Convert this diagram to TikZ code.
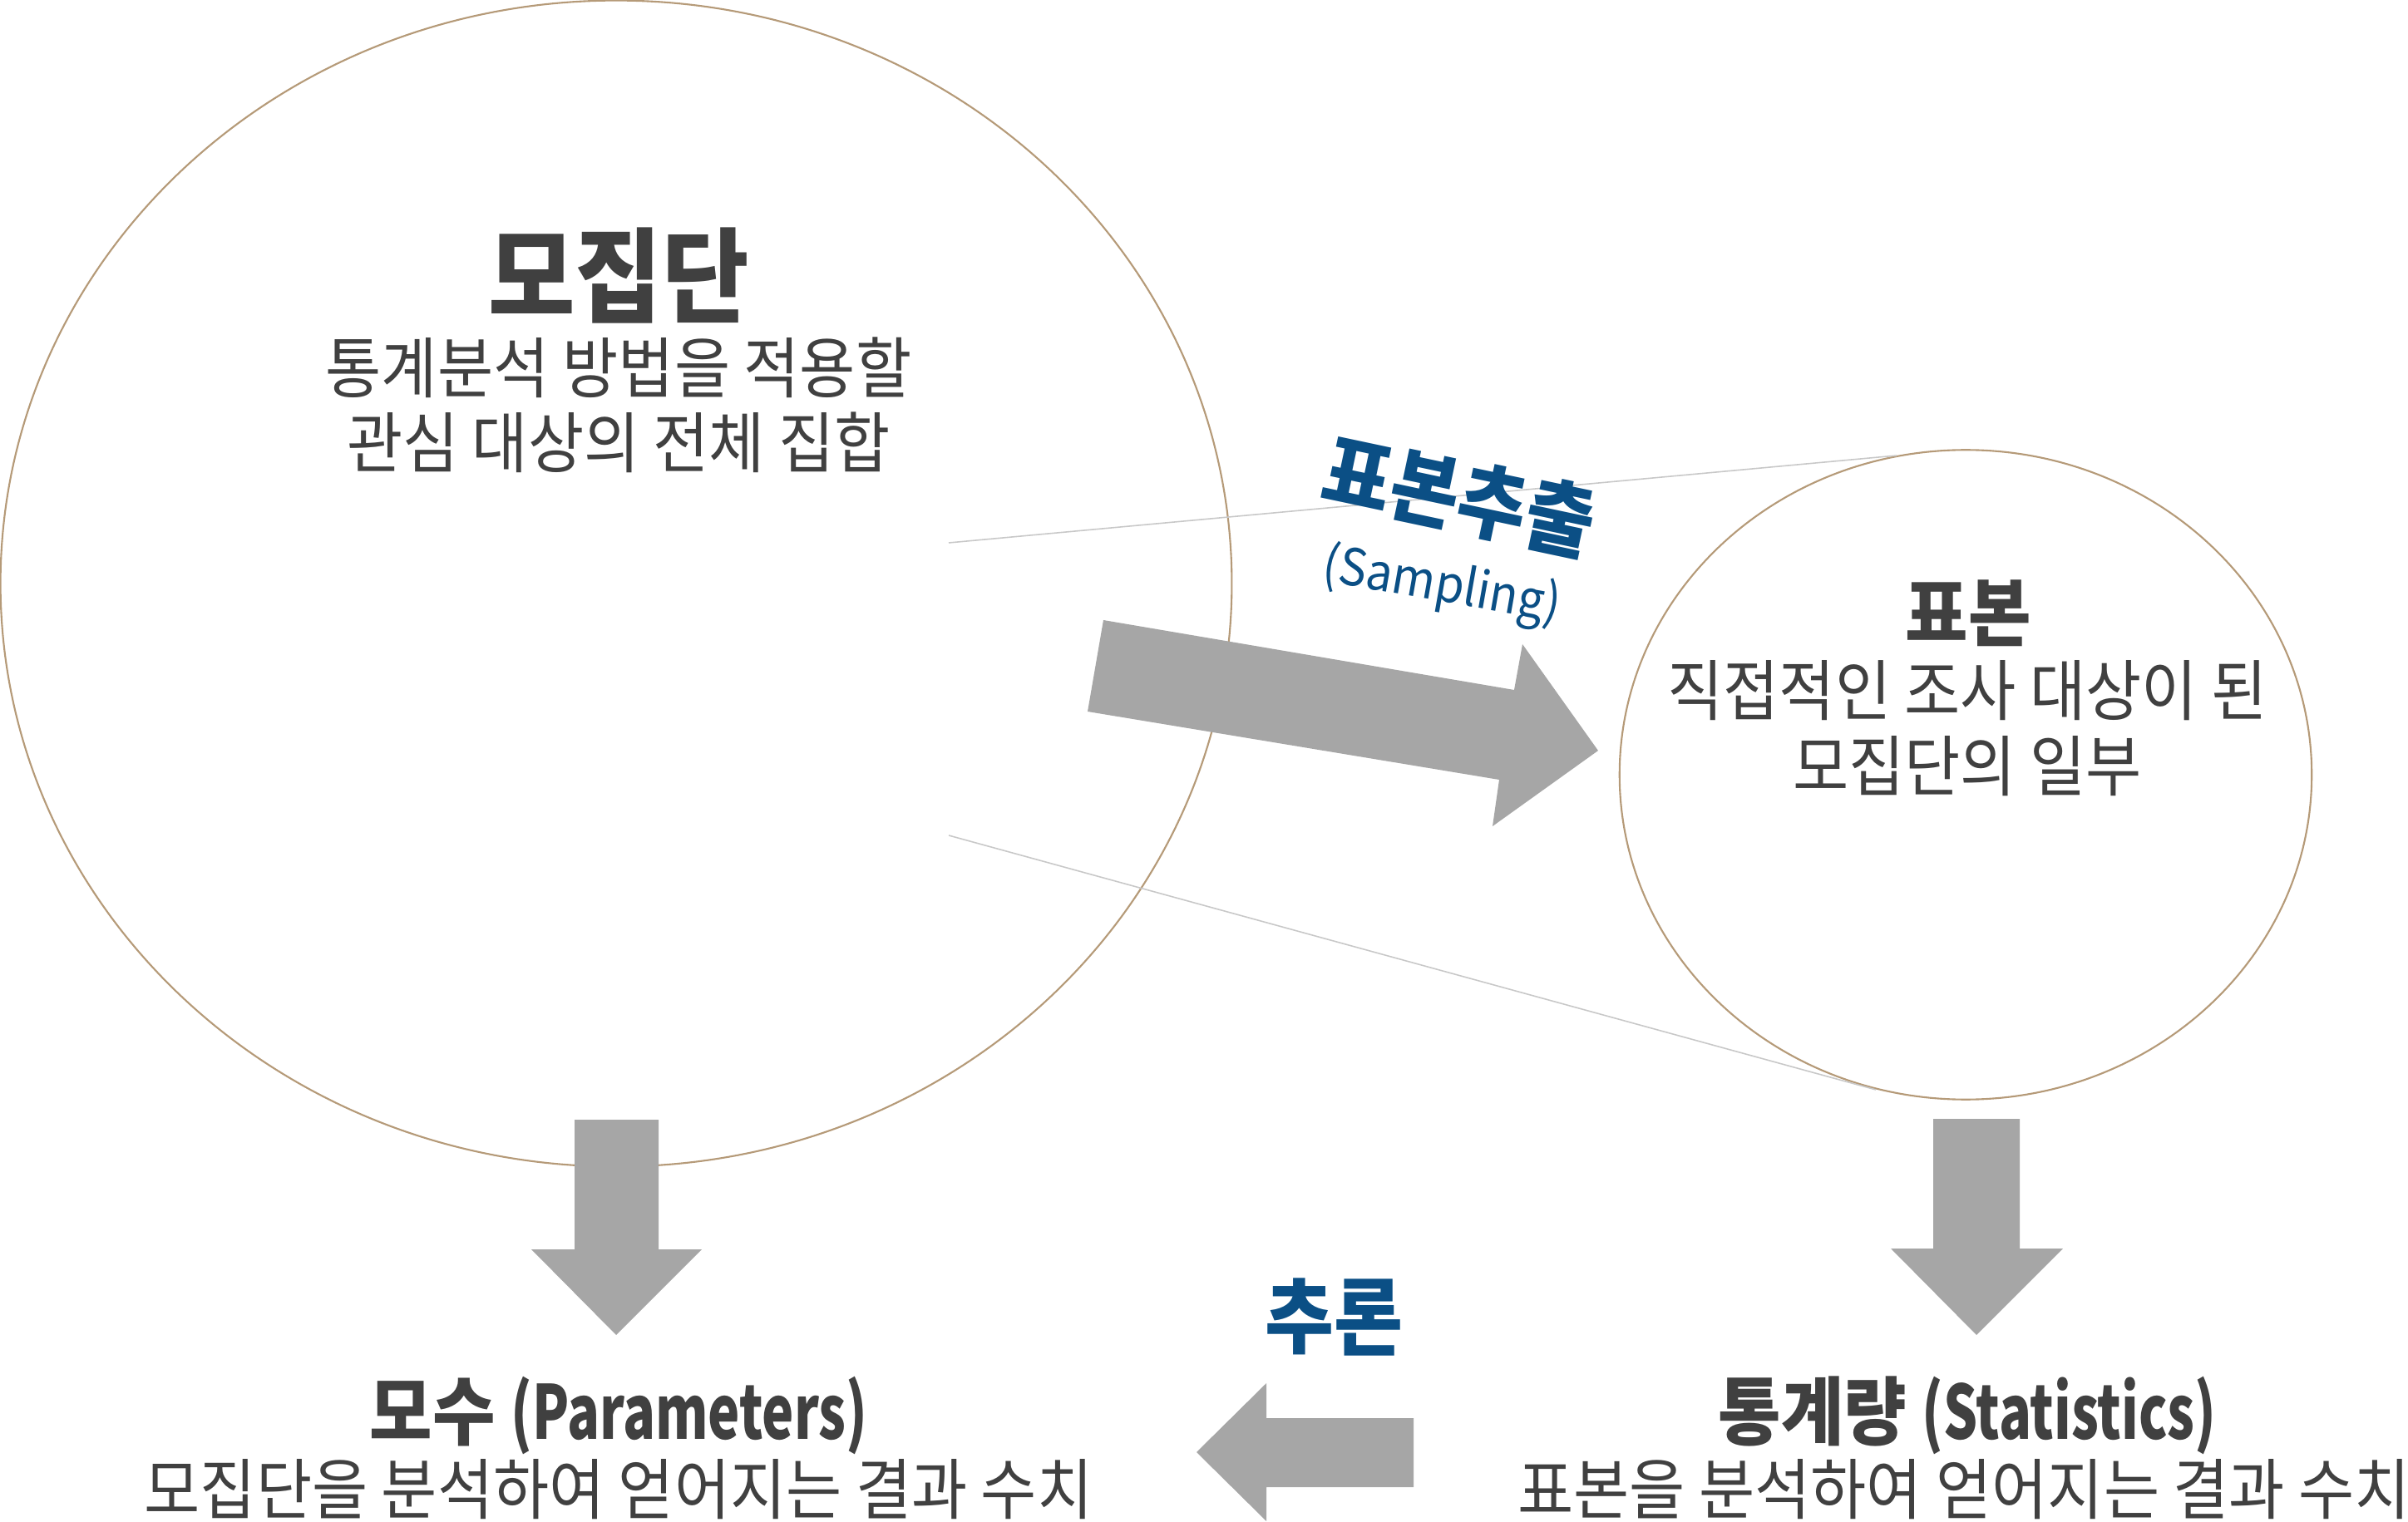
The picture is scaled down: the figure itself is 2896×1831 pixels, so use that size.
\documentclass[tikz,border=0pt]{standalone}
\usepackage{fontspec}
\setmainfont{Noto Sans CJK KR}
\newfontfamily\kr[FakeStretch=0.915]{Noto Sans CJK KR}
\newfontfamily\krc[FakeStretch=0.72]{Noto Sans CJK KR}
\usetikzlibrary{shapes.geometric}
\definecolor{txt}{HTML}{404040}
\definecolor{blu}{HTML}{0B4F85}
\definecolor{arr}{HTML}{A6A6A6}
\definecolor{rim}{HTML}{B59A78}
\definecolor{ln}{HTML}{C8C8C8}
\begin{document}
\begin{tikzpicture}[x=0.01cm,y=-0.01cm,
  ring/.style={draw=rim, line width=0.6pt, ellipse, inner sep=0pt},
  guide/.style={draw=ln, line width=0.45pt},
  fat/.style={fill=arr, draw=none},
  bigtitle/.style={font=\kr\fontsize{35.3pt}{40pt}\selectfont\bfseries, text=txt, inner sep=0pt},
  midtitle/.style={font=\kr\fontsize{25.5pt}{30pt}\selectfont\bfseries, text=txt, inner sep=0pt},
  lowtitle/.style={font=\kr\fontsize{25.5pt}{30pt}\selectfont\bfseries, text=txt, inner sep=0pt},
  body/.style={font=\kr\fontsize{22.7pt}{25.7pt}\selectfont, text=txt, align=center, inner sep=0pt},
  bluebold/.style={font=\kr\fontsize{28pt}{32pt}\selectfont\bfseries, text=blu, inner sep=0pt},
  bluethin/.style={font=\kr\fontsize{17.5pt}{21pt}\selectfont, text=blu, inner sep=0pt}]
\useasboundingbox (0,0) rectangle (2896,1831);

% circles
\node[ring, minimum width=14.80cm, minimum height=14.02cm] (pop) at (741,702) {};
\node[ring, minimum width=8.32cm, minimum height=7.81cm] (smp) at (2364,932) {};

% guide lines
\coordinate (g1s) at (1141,653);
\coordinate (g1e) at (2281,548);
\coordinate (g2s) at (1141,1005);
\coordinate (g2e) at (2256,1311);
\draw[guide] (g1s) -- (g1e);
\draw[guide] (g2s) -- (g2e);

% block arrows
\fill[fat] (1327,746) -- (1821,830) -- (1831,775) -- (1922,903) -- (1795,994) -- (1803,938) -- (1308,856) -- cycle;
\fill[fat] (691,1347) -- (792,1347) -- (792,1503) -- (844,1503) -- (741,1606) -- (639,1503) -- (691,1503) -- cycle;
\fill[fat] (2325,1346) -- (2429,1346) -- (2429,1502) -- (2481,1502) -- (2377,1606) -- (2274,1502) -- (2325,1502) -- cycle;
\fill[fat] (1700,1706) -- (1523,1706) -- (1523,1664) -- (1439,1747) -- (1523,1830) -- (1523,1789) -- (1700,1789) -- cycle;

% texts
\node[bigtitle] (poptitle) at (744,332) {모집단};
\node[body] (popbody) at (744,487) {통계분석 방법을 적용할\\관심 대상의 전체 집합};
\node[midtitle] (smptitle) at (2367,738) {표본};
\node[body] (smpbody) at (2366,876) {직접적인 조사 대상이 된\\모집단의 일부};
\node[bluebold, rotate=-12] (sampling) at (1755,597) {표본추출};
\node[bluethin, rotate=-10] (samplingen) at (1734,706) {(Sampling)};
\node[bluebold] (infer) at (1604,1585) {추론};
\node[lowtitle] (partitle) at (744,1703) {모수 {\krc (Parameters)}};
\node[body] (parbody) at (744,1792) {모집단을 분석하여 얻어지는 결과 수치};
\node[lowtitle] (stattitle) at (2366,1703) {통계량 {\krc (Statistics)}};
\node[body] (statbody) at (2362,1792) {표본을 분석하여 얻어지는 결과 수치};
\end{tikzpicture}
\end{document}
